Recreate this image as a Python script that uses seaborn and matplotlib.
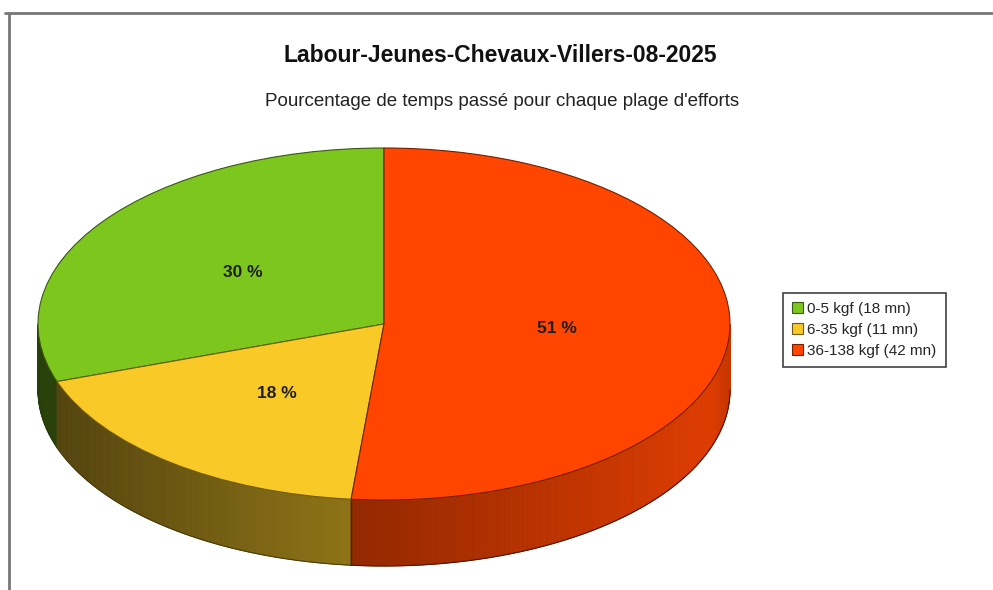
import numpy as np
import matplotlib
matplotlib.use("Agg")
import matplotlib.pyplot as plt
import seaborn as sns
from matplotlib.lines import Line2D
from matplotlib.collections import PolyCollection
from matplotlib.colors import to_rgb

# ---- data ----
categories = ["0-5 kgf (18 mn)", "6-35 kgf (11 mn)", "36-138 kgf (42 mn)"]
values = [30, 18, 51]
pct_labels = ["30 %", "18 %", "51 %"]
colors = ["#7dc61e", "#f8c927", "#ff4500"]
title = "Labour-Jeunes-Chevaux-Villers-08-2025"
subtitle = "Pourcentage de temps passé pour chaque plage d'efforts"

sns.set_theme(style="white")
plt.rcParams["font.family"] = ["Liberation Sans", "DejaVu Sans"]

W, H = 993, 590
fig = plt.figure(figsize=(W / 100, H / 100), dpi=100)
fig.patch.set_facecolor("white")

# pie geometry (pixels)
cx, cy = 384, 324      # centre of top face (from top)
a, b = 346, 176        # semi-axes
depth_px = 66
d = depth_px / b

ax_left, ax_right = 30, 740
ax_top, ax_bot = 140, 582
ax = fig.add_axes([ax_left / W, (H - ax_bot) / H, (ax_right - ax_left) / W, (ax_bot - ax_top) / H])

wedges, _ = ax.pie(values, colors=colors, startangle=90, counterclock=True,
                   radius=1, center=(0, 0),
                   wedgeprops=dict(linewidth=0.8, zorder=3))
for w, c in zip(wedges, colors):
    rgb = np.array(to_rgb(c))
    w.set_edgecolor(tuple(rgb * 0.45))
    w.set_zorder(3)

ax.set_aspect("auto")
ax.set_xlim((ax_left - cx) / a, (ax_right - cx) / a)
ax.set_ylim((cy - ax_bot) / b, (cy - ax_top) / b)
ax.axis("off")

# side walls (front half only), shaded strips
polys, fcols = [], []
for w, c in zip(wedges, colors):
    rgb = np.array(to_rgb(c))
    t1, t2 = w.theta1, w.theta2
    lo, hi = max(t1, 180), min(t2, 360)
    if lo >= hi:
        continue
    n = max(int((hi - lo) * 2), 2)
    ts = np.linspace(lo, hi, n + 1)
    for u0, u1 in zip(ts[:-1], ts[1:]):
        r0, r1 = np.radians(u0), np.radians(u1)
        polys.append([(np.cos(r0), np.sin(r0)), (np.cos(r1), np.sin(r1)),
                      (np.cos(r1), np.sin(r1) - d), (np.cos(r0), np.sin(r0) - d)])
        um = np.radians((u0 + u1) / 2)
        shade = 0.6 + 0.28 * np.cos(um)
        if np.cos(um) > 0.95:
            shade -= (np.cos(um) - 0.95) * 2.0
        fcols.append(tuple(np.clip(rgb * shade, 0, 1)))
    # outline: bottom edge + boundary lines
    tt = np.radians(np.linspace(lo, hi, 200))
    ax.plot(np.cos(tt), np.sin(tt) - d, color=tuple(rgb * 0.3), lw=0.8, zorder=2)
    for edge in (lo, hi):
        if 180 < edge < 360:
            re = np.radians(edge)
            ax.plot([np.cos(re)] * 2, [np.sin(re), np.sin(re) - d],
                    color=tuple(rgb * 0.35), lw=0.9, zorder=2)

pc = PolyCollection(polys, facecolors=fcols, edgecolors=fcols, linewidths=0.6, zorder=1)
ax.add_collection(pc)

# percentage labels
for w, lab in zip(wedges, pct_labels):
    mid = np.radians((w.theta1 + w.theta2) / 2)
    ax.text(0.5 * np.cos(mid), 0.5 * np.sin(mid), lab, ha="center", va="center",
            fontsize=12.5, fontweight="bold", color="#1e1e1e", zorder=5)

# titles
fig.text(500 / W, 1 - 55 / H, title, ha="center", va="center",
         fontsize=16.5, fontweight="bold", color="#111111")
fig.text(502 / W, 1 - 102 / H, subtitle, ha="center", va="center",
         fontsize=13.5, color="#222222")

# legend
leg = fig.legend(wedges, categories, loc="upper left",
                 bbox_to_anchor=(783 / W, 1 - 293 / H),
                 frameon=True, fancybox=False, shadow=False, fontsize=11,
                 handlelength=0.7, handleheight=0.7, handletextpad=0.3,
                 labelspacing=0.45, borderpad=0.6, borderaxespad=0)
leg.get_frame().set_edgecolor("#111111")
leg.get_frame().set_linewidth(1.2)

# outer frame (top and left edge visible)
fig.add_artist(Line2D([5 / W, 1], [1 - 13 / H] * 2, color="#777777", lw=2))
fig.add_artist(Line2D([9 / W] * 2, [1 - 13 / H, 0], color="#777777", lw=2))

fig.savefig("out.png", dpi=100)
